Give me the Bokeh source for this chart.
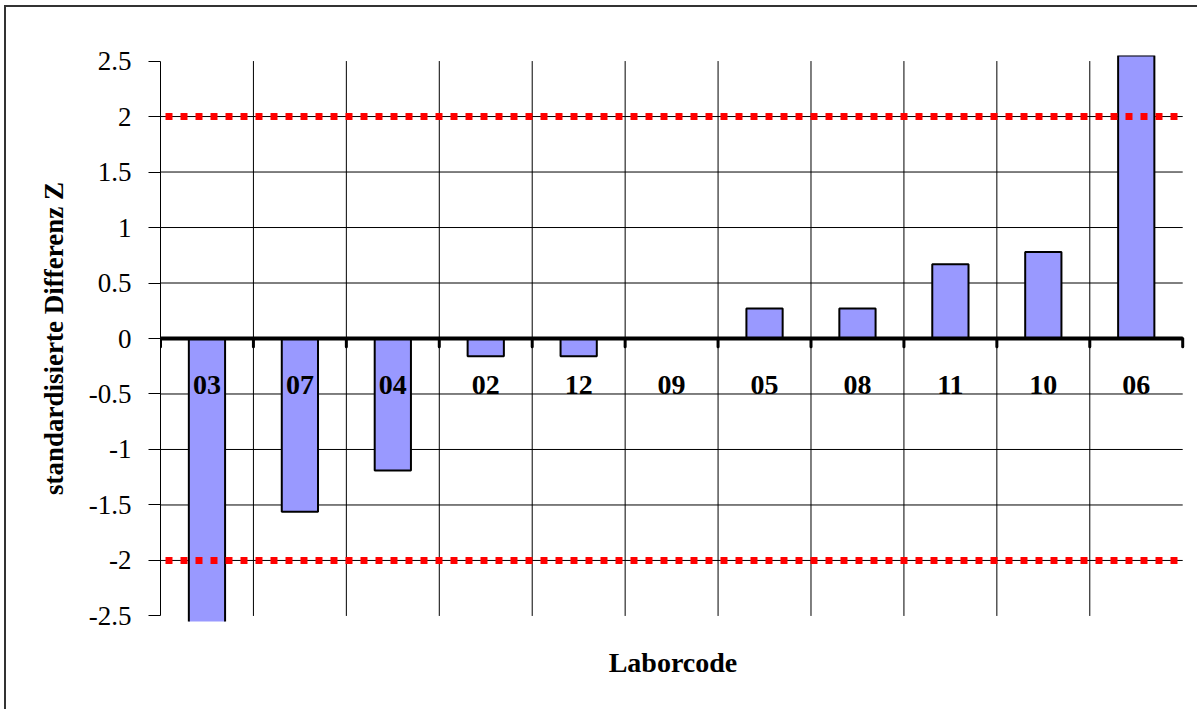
from bokeh.plotting import figure
from bokeh.models import Range1d, FixedTicker, CustomJSTickFormatter
from bokeh.embed import file_html
from bokeh.resources import INLINE

# ---- data ----
categories = ["03", "07", "04", "02", "12", "09", "05", "08", "11", "10", "06"]
z_values = [-2.9, -1.56, -1.19, -0.16, -0.16, 0.0, 0.27, 0.27, 0.67, 0.78, 2.9]
y_ticks = [-2.5, -2.0, -1.5, -1.0, -0.5, 0.0, 0.5, 1.0, 1.5, 2.0, 2.5]
grid_levels = [-2.0, -1.5, -1.0, -0.5, 0.5, 1.0, 1.5, 2.0]
limits = [-2.0, 2.0]

n = len(categories)
centers = [i + 0.5 for i in range(n)]
bounds_x = list(range(n + 1))

FONT = "Liberation Serif"

p = figure(width=1193, height=704, x_range=Range1d(0, n + 0.03), y_range=Range1d(-2.55, 2.55),
           output_backend="svg", toolbar_location=None, title=None,
           min_border_left=154, min_border_right=14, min_border_top=48, min_border_bottom=90)
p.styles = {"border-left": "2px solid #333", "border-top": "2px solid #333",
            "margin-left": "4px", "margin-top": "5px"}
p.outline_line_color = None
p.background_fill_color = "white"
p.border_fill_color = "white"
p.xgrid.visible = False
p.ygrid.visible = False

# y axis
ya = p.yaxis[0]
ya.ticker = FixedTicker(ticks=y_ticks)
ya.formatter = CustomJSTickFormatter(code="return tick.toString();")
ya.bounds = (y_ticks[0], y_ticks[-1])
ya.axis_line_color = "black"
ya.axis_line_width = 1
ya.major_tick_out = 12
ya.major_tick_in = 0
ya.major_tick_line_color = "black"
ya.minor_tick_line_color = None
ya.major_label_text_font = FONT
ya.major_label_text_font_size = "27px"
ya.major_label_text_color = "black"
ya.major_label_standoff = 17
ya.axis_label = "standardisierte Differenz Z"
ya.axis_label_text_font = FONT
ya.axis_label_text_font_size = "27px"
ya.axis_label_text_font_style = "bold"
ya.axis_label_text_color = "black"
ya.axis_label_standoff = 17

# x axis (title only)
xa = p.xaxis[0]
xa.ticker = FixedTicker(ticks=[])
xa.axis_line_color = None
xa.major_tick_line_color = None
xa.minor_tick_line_color = None
xa.axis_label = "Laborcode"
xa.axis_label_text_font = FONT
xa.axis_label_text_font_size = "28px"
xa.axis_label_text_font_style = "bold"
xa.axis_label_text_color = "black"
xa.axis_label_standoff = 25

# horizontal grid lines
p.segment(x0=[0] * len(grid_levels), x1=[n] * len(grid_levels), y0=grid_levels, y1=grid_levels,
          line_color="black", line_width=1)
# vertical grid lines at category boundaries
p.segment(x0=bounds_x[1:-1], x1=bounds_x[1:-1], y0=[y_ticks[0]] * (n - 1), y1=[y_ticks[-1]] * (n - 1),
          line_color="black", line_width=1)

# bars
p.vbar(x=centers, top=z_values, bottom=0, width=0.39, fill_color="#9999FF",
       line_color="black", line_width=2)

# zero axis with ticks
p.segment(x0=[0], x1=[n], y0=[0], y1=[0], line_color="black", line_width=4)
p.segment(x0=bounds_x, x1=bounds_x, y0=[0] * len(bounds_x), y1=[-0.075] * len(bounds_x),
          line_color="black", line_width=3, line_cap="round")

# limit lines
p.segment(x0=[0] * len(limits), x1=[n] * len(limits), y0=limits, y1=limits,
          line_color="#FF0000", line_width=7, line_dash="7 8", line_dash_offset=10)

# category labels
p.text(x=centers, y=[-0.42] * n, text=categories, text_align="center", text_baseline="alphabetic",
       text_font=FONT, text_font_size="28px", text_font_style="bold", text_color="black")

open("out.html", "w").write(file_html(p, INLINE))
